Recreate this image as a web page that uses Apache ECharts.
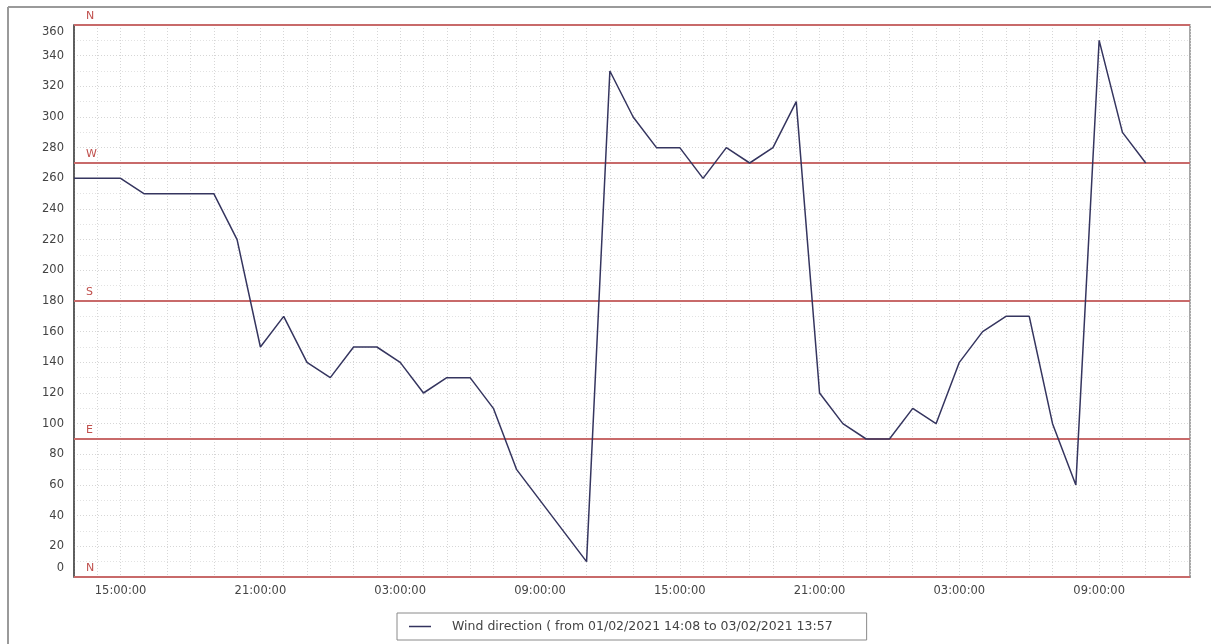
<!DOCTYPE html>
<html>
<head>
<meta charset="utf-8">
<script src="https://cdn.jsdelivr.net/npm/echarts@6/dist/echarts.min.js"></script>
<style>
html,body{margin:0;padding:0;background:#fff;}
#chart{width:1211px;height:644px;}
</style>
</head>
<body>
<div id="chart"></div>
<script>
// hours since 01/02/2021 00:00 (axis time)
const sampleHours = [13,14,15,16,17,18,19,20,21,22,23,24,25,26,27,28,29,30,31,32,35,36,37,38,39,40,41,42,43,44,45,46,47,48,49,50,51,52,53,54,55,56,57,58,59];
const windDirection = [260,260,260,250,250,250,250,220,150,170,140,130,150,150,140,120,130,130,110,70,10,330,300,280,280,260,280,270,280,310,120,100,90,90,110,100,140,160,170,170,100,60,350,290,270];
const compassValues = [0,90,180,270,360];
const compassNames = ['N','E','S','W','N'];
const seriesName = 'Wind direction ( from 01/02/2021 14:08 to 03/02/2021 13:57';
const xMin = 13, xMax = 60.9;
const labelHours = [15,21,27,33,39,45,51,57];

const data = sampleHours.map((h, i) => [h, windDirection[i]]);
const pad = n => (n < 10 ? '0' : '') + n;
const FONT = 'DejaVu Sans, sans-serif';

const chart = echarts.init(document.getElementById('chart'));
chart.setOption({
  animation: false,
  backgroundColor: '#fff',
  textStyle: {fontFamily: FONT},
  graphic: [
    {type: 'line', shape: {x1: 8, y1: 7, x2: 8, y2: 644}, style: {stroke: '#9a9a9a', lineWidth: 2}},
    {type: 'line', shape: {x1: 8, y1: 7, x2: 1211, y2: 7}, style: {stroke: '#9a9a9a', lineWidth: 2}}
  ],
  grid: {left: 74, right: 21, top: 25, bottom: 67, show: true, borderColor: '#8a8a8a', borderWidth: 1.5},
  legend: {
    left: 397, top: 613,
    padding: [7, 34, 7, 12],
    borderColor: '#8a8a8a', borderWidth: 1,
    itemWidth: 22, itemHeight: 1.5,
    textStyle: {fontSize: 12.5, color: '#444', fontFamily: FONT, padding: [0, 0, 0, 16]},
    data: [{name: seriesName, icon: 'rect'}]
  },
  xAxis: {
    type: 'value', min: xMin, max: xMax, interval: 1,
    axisLine: {show: true, lineStyle: {color: '#777', width: 1.5}},
    axisTick: {show: false},
    axisLabel: {
      color: '#444', fontSize: 11.5, margin: 8, fontFamily: FONT,
      formatter: v => labelHours.includes(Math.round(v)) && Math.abs(v - Math.round(v)) < 1e-6 ? pad(Math.round(v) % 24) + ':00:00' : ''
    },
    splitLine: {show: true, lineStyle: {color: '#d6d6d6', type: [1, 2], width: 1}}
  },
  yAxis: {
    type: 'value', min: 0, max: 360, interval: 20,
    axisLine: {show: true, lineStyle: {color: '#444', width: 1.5}},
    axisTick: {show: false},
    axisLabel: {
      color: '#444', fontSize: 11.5, margin: 10, fontFamily: FONT,
      formatter: v => v === 0 ? '{lo|0}' : (v === 360 ? '{hi|360}' : String(v)),
      rich: {
        lo: {color: '#444', fontSize: 11.5, fontFamily: FONT, padding: [0, 0, 18, 0]},
        hi: {color: '#444', fontSize: 11.5, fontFamily: FONT, padding: [14, 0, 0, 0]}
      }
    },
    splitLine: {show: true, lineStyle: {color: '#d6d6d6', type: [1, 2], width: 1}},
    minorTick: {show: false, splitNumber: 2},
    minorSplitLine: {show: true, lineStyle: {color: '#e2e2e2', type: [1, 2], width: 1}}
  },
  series: [{
    name: seriesName,
    type: 'line',
    data: data,
    showSymbol: false,
    symbol: 'none',
    color: '#33335e',
    lineStyle: {color: '#35355f', width: 1.5},
    z: 5,
    markLine: {
      silent: true,
      symbol: ['none', 'none'],
      lineStyle: {color: '#c86a6a', width: 2, type: 'solid'},
      label: {show: true, position: 'insideStartTop', color: '#c0504d', fontSize: 11, distance: [12, 3], fontFamily: FONT},
      data: compassValues.map((v, i) => ({yAxis: v, label: {formatter: compassNames[i]}}))
    }
  }]
});
</script>
</body>
</html>
